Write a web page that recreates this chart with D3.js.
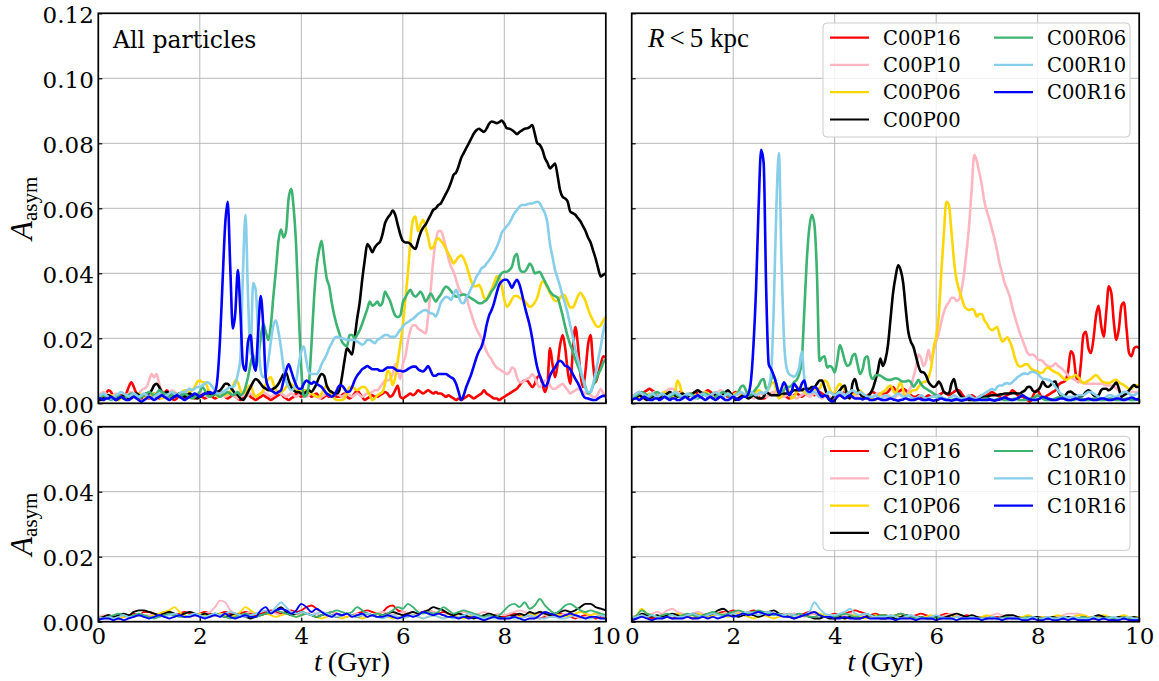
<!DOCTYPE html>
<html>
<head>
<meta charset="utf-8">
<script src="https://cdn.jsdelivr.net/npm/d3@7"></script>
<style>
  body { margin: 0; background: #fff; }
  svg { display: block; }
</style>
</head>
<body>
<svg id="fig" width="1159" height="681"></svg>
<script>
// ---------------------------------------------------------------
// Disc asymmetry A_asym versus time, in units of 1e-3.
// Top row: C00 runs (0.05 Gyr sampling); bottom row: C10 runs (0.1 Gyr).
// Left column: all particles; right column: R < 5 kpc.
// ---------------------------------------------------------------
const timeTop = d3.range(201).map(i => i * 0.05);
const timeBottom = d3.range(101).map(i => i * 0.1);

const namesC00 = ["C00P16", "C00P10", "C00P06", "C00P00", "C00R06", "C00R10", "C00R16"];
const namesC10 = ["C10P16", "C10P10", "C10P06", "C10P00", "C10R06", "C10R10", "C10R16"];
const seriesColors = ["#ff0000", "#ffb6c1", "#ffd700", "#000000", "#3cb371", "#87ceeb", "#0000ff"];

const yTicksTop = [0, 0.02, 0.04, 0.06, 0.08, 0.10, 0.12];
const yTicksBottom = [0, 0.02, 0.04, 0.06];
const xTicks = [0, 2, 4, 6, 8, 10];

// ---- All particles, C00 ----
const allC00P16 = [
  2,2,2.5,3,4,3.5,2,1.5,2,2.5,2,3,5,6.5,5,3,2,1.5,2.5,2,
  1.5,2,3,2,1.5,2,3,4,3,1.5,1,1.5,2.5,2,1.5,2,2.5,2,1.5,2,
  2.5,2,1.5,2,3,2,1.5,2,2.5,3,2,1.5,2,2.5,2,1.5,1,1.5,2,3,
  2,1.5,1,1.5,2,2.5,2,1.5,1,1.5,2,2.5,3,2,1.5,1,1.5,2,3,2.5,
  2,3,4,3,2,2.5,3,2,1.5,2,2.5,2,3,2.5,2,2,2.5,3,2,1.5,
  2,3,4,3,2,1,1.5,2,2.5,2,2,2.5,3,3.5,3,2,2.5,4,5.5,2,
  1.5,2,2.5,3,2.5,3,4,3.5,3,3.5,4,3.5,3,3.5,3,3,2.5,2,2.5,2,
  1.5,1,1.5,1,1.5,2,2.5,2,1.5,2,2.5,3,4,3,2.5,2,1.5,1.5,1,1.5,
  2,2.5,3,3.5,4,4.5,5.5,6.5,7,7,6,5,6,8,8.5,6,3.5,6,17,12,
  8,12,18,21,17,10,6,16,23.5,18,9,5,10,18,21,12,6.5,9,12,14.5,
  14];
const allC00P10 = [
  2,3,3.5,3,2.5,2,2.5,3,2.5,2,2,2.5,3,3.5,3,2.5,3,4,4.5,5,
  7,9,8,9,6,4,3,2.5,3,4,3.5,3,2.5,2,2.5,3,2.5,2,2.5,3,
  3.5,3,2.5,2,2.5,3,4,3.5,3,2.5,2,2.5,3,2.5,2,1.5,2,2.5,2,2.5,
  3,2.5,2,2.5,3,3.5,3,2.5,2,2.5,3,3.5,3,2.5,2,2.5,3,2.5,2,2.5,
  3,2.5,2,2.5,3,2.5,2,1.5,2,2.5,3,2.5,2,2.5,3,2.5,2,2.5,3,2.5,
  2,2.5,3,2.5,2,2.5,3,3,3.5,4,4,5,6,7,7,7.5,9,12,10,7.5,
  12,14.5,19,22.5,24,24,23,22.5,22,21.5,27,35,44,50,53,53,51,48,44.5,42,
  40.5,38,35.5,34,33.5,33,30,27.5,25,23,21.5,20,18,16,14.5,13.5,12,11,10.5,10,
  9.5,9,9.5,11,10.5,8,6.5,6.5,7,7.5,8,9,8,6,5,6,7,7,5.5,4.5,
  4.5,5,5.5,6,5,4,3,3.5,4,4.5,4,3.5,3,3,2.5,2,2,3,4.5,3,
  2];
const allC00P06 = [
  2,1.5,1,1.5,2,2.5,2,1.5,1,1.5,2,2.5,2,1.5,2,2.5,3,2.5,2,1.5,
  2,2.5,3,2.5,2,1.5,2,2.5,3,3.5,3,2.5,3,3.5,4,4,3.5,4,5,6.5,
  7,6.5,6.5,5,3,2.5,3,2,2.5,3,2.5,3,3.5,5,7,6.5,4,3,3.5,5,
  5.5,3.5,2,2.5,3,4,6,7.5,8,6,4,3.5,3.5,4,5,6,6,5,4,3.5,
  4,4,4,3.5,3,2.5,2,2,3,4.5,5.5,4,2.5,1.5,1,1,1,1.5,3,5,
  5,4.5,4,4.5,5,5,4,2.5,1,1.5,2.5,3,3.5,6,10,9,5.5,8,13,18,
  24,32,40,50,56.5,57.5,53,55,56.5,54,51,47.5,48,50,50.8,50,49,47.5,46,44.5,
  43,44,45,45.5,44.5,42.5,40,37.5,36,36,36.5,35,32.5,32,33.5,35,37,39,39,36,
  32,29.7,30.5,32,33,33,32.5,32,31.5,30.5,29.7,30,31,32.5,35.5,37.5,37,35.5,34,32.5,
  31.5,31.5,32.5,33.5,33,31,29.5,29.5,31,33,34,33,31.5,29,27,25.5,24,23.5,24,25.5,
  26.5];
const allC00P00 = [
  1.5,1,1.5,2,2.5,2,1.5,1,1.5,2,2.5,2,1.5,2,2.5,3,2.5,2,2.5,3,
  3,4,5.5,6,5,3.5,3,3.5,3,2.5,2,2.5,3,2.5,2,2.5,3,2.5,2,1.5,
  2,2.5,3,3.5,3,2.5,3,3.5,4,5,6,6,5,4,3,2.5,1.5,1,2,3.5,
  5,6.5,7.5,7,6,5,4.5,4,4,4.5,5,6,7.5,9,9.5,7,5,4,3.5,3.5,
  3,3,3.5,4,3.5,4.5,6,8,9,8.5,5.5,4,3.5,3,3,4,8,13,17,16,
  15,20,26,31,38,44,49,48,46.5,48,49,49.7,52,55.4,57,58,59.3,58,55,52,
  50,49.5,49.5,49,48,47.5,50,52.5,54,55,56.5,58,59.5,60,61,61.5,63,64.5,66,68,
  70.3,71,73,75.5,77,78.5,80,81.5,83,84,84.5,84,83.5,84.5,86,86.7,86.5,86.2,86.5,87,
  86,84.6,84.5,84.1,83.5,82.8,83.5,84,84.5,84.6,85,85.6,83,80,79.5,78,75.5,74,72.3,73,
  73.8,70,65.5,63.5,63,62,59,58.5,58,57,56,54.5,53,51,49.5,47,44.5,41.5,39,39.5,
  40];
const allC00R06 = [
  1.5,2,2.5,2,1.5,1,1.5,2,2.5,2,1.5,2,2.5,3,2.5,2,1.5,2,2.5,3,
  3.5,3,2.5,3,4,3.5,3,2.5,2,2.5,3,2.5,2,2.5,3,2.5,2,1.5,2,2.5,
  3.5,5,4,2.5,2,2.5,3,2.5,2,2.5,3,3.5,3,2.5,3,3.5,2.5,3,5,8,
  12,15,11,14,20,24.5,22,19.5,24,33,41,50,53.5,51,53,63,66,60,48,28,
  11,2,2.5,6,18,32,42,47,50,44,38.5,36,31,27,24,21.5,19,18,17.5,21,
  21,20,21,22.5,24.5,26.7,29,31.3,30,30.5,31.3,30,31,34.4,33,31.5,29,27,26.5,27,
  31,32.5,34,34.9,33.5,32.8,33.5,34.4,33,31.3,32.5,33.8,32.5,31.3,32.5,33.5,35,35.9,35.5,34.5,
  33.5,32.8,33,33.3,33.5,33.3,32.8,32.3,31.8,31.3,30.8,30.8,31.3,31.8,33,34.5,35.5,37,39,40,
  40.5,40.5,41,42,45,46,41.5,40.5,40.5,41.5,43,42,40,40.2,40.5,39,37.5,36,34.4,33.5,
  33,32.5,30,27,23.5,20.5,18,16,13.5,11.5,9.5,7.5,5,3,3.5,5.5,7,9,10.5,12.5,
  13.5];
const allC00R10 = [
  2,2.5,3,2.5,2,1.5,2,2.5,3,3.5,3,2.5,2,2.5,3,2.5,2,2.5,3,2.5,
  2,1.5,2,2.5,3,2.5,2,2.5,3,3.5,3,2.5,3,3.5,3.5,4,4.5,4,4.5,5,
  5,5.5,6,6.5,6,5,4,3,3,3.5,4,4.5,5,5,6,9,14,40,58,33,
  15,37,35,21.5,10,8,9,13,19,24,25.5,22,17,11,7,5,4,4.5,7,12,
  16,17.5,13,9.5,9,9,9,10,12,13.5,15,17,18.5,20,20.5,20.2,20,19.8,19.5,19.5,
  19.5,19.5,19,18.5,18,18.5,19.5,19.5,19,18.5,19.5,20,20.5,21,21,20.5,20.5,20.5,21.5,22.6,
  23.5,24.5,25,25.5,26,26.7,27.5,28,28.5,28.7,28.2,27.7,27.5,26.7,28.5,31,32,32.8,32.5,31.8,
  33.5,34.9,33,31,30.8,32.5,33.8,35.5,37,39,40,41.5,42,43,44,45.1,46.5,48,50,52.5,
  53.5,54.5,55.5,57,58.5,59.5,60.5,61,61,61.2,61.5,61.5,61.8,62,61.5,60,58.5,55.5,49,45,
  41,38.5,35.9,33,30.5,27.5,24,20.5,16.5,13.5,10.5,7.5,4.5,3.5,3.5,6,9.5,13.5,17.5,22,
  25.5];
const allC00R16 = [
  1.5,1.5,1,1.5,1.5,2,1.5,1,1.5,2,1.5,1,1,1.5,2,1.5,1,0.5,1,1.5,
  2,1.5,1,1.5,2,2.5,2,1.5,1,1.5,2,2.5,2,1.5,1,1.5,2,2.5,3,2.5,
  2,2.5,3,3,3.5,3,3.5,8,20,38,55,62,42,23,28,41,28,12,10,19,
  21,13,10,22,33,24,8,5,4,3.5,3,3.5,4,7,10,12,10,7.5,5.5,4.5,
  4.5,6,7,6.5,6,6.6,6,5.5,5,4,3,2.5,2,2.5,4,5.5,5.5,4.5,3.5,3.6,
  5,7,8.5,9.5,10.5,11,11.5,11,10.5,10.5,10.5,10,10,10.5,11,11,11,10.5,10,10,
  9.8,10,10.5,11,11.3,11.3,10.5,10,9.8,10.5,11.5,10,8.5,8.5,9,9,9,9,8.5,8,
  7.5,6,3.5,1,2.5,5,7,9,11.5,14,16,17.4,20,24,27,28.7,31,34,36.5,37.5,
  38,38,37,35.5,37,38,36.5,33.5,30,27,24,20,15,11,8.5,6.5,5.2,6,8.5,10,
  11,12.5,13.1,12.5,11.5,11.3,10.5,9,7.5,6.2,4.5,2.5,1.6,1.5,1.2,1,1,1.5,2,2.3,
  2.3];

// ---- R < 5 kpc, C00 ----
const innerC00P16 = [
  2,2.5,3,3.5,3,3.5,4,4.5,4,3.5,3,2.5,2,2.5,3,2.5,2,2.5,3,3.5,
  3,2.5,2,2.5,3,3.5,3,2.5,3,3.5,4,3.5,3,2.5,2,2.5,3,2.5,2,2.5,
  3,3.5,3,2.5,2,2.5,3,3.5,3,2.5,2,1.5,1.5,2,2.5,3,3.5,3,2.5,2,
  2.5,2,1.5,2,2.5,3,2.5,2,2.5,3,3.5,3,2.5,3,3.5,3,2.5,2,1.5,1,
  1.5,2,2.5,3,3.5,3,2.5,3,3.5,3,3,2.5,2,2.5,3,3.5,3,2.5,3,3,
  3,3.5,4.5,5,4,3.5,4,4.5,4,3,2.5,2,2,2.5,2,1.5,2,2.5,2,2,
  2,2.5,3,3.5,3,2.5,3,3.5,4,4,3,2,1.5,2,2.5,2,1.5,2,2.5,2,
  2.5,3,3.5,3,2.5,2,1.5,2,2.5,3,4,3.5,2.5,2,2,1.5,1,0.5,2,3.5,
  4,2.5,1.5,2,2.5,3,3.5,4,5.5,6.2,6.5,7,10,16,15,9,6.5,12,21,22,
  17,15.5,20,27,30,24,20.5,28,36,34,25,19.5,23,30,31,23,15.5,14.5,17,17.4,
  16.9];
const innerC00P10 = [
  2,2.5,3,3.5,3,2.5,2,2.5,3,3.5,3,2.5,3,3.5,4,4.5,4.5,4,3.5,3,
  2.5,2,2.5,3,2.5,2,2.5,3,3.5,3,2.5,2,2.5,3,3.5,4,3.5,3,2.5,2,
  2.5,3,2.5,2,2.5,3,2.5,2,1.5,2,2.5,3,2.5,2,2.5,3,3.5,3,2.5,2,
  2,2.5,3,2.5,2,1.5,2,2.5,3,2.5,2,2.5,3,2.5,2,1.5,2,2.5,2,1.5,
  1.5,2,2.5,3,2.5,2,1.5,2,2.5,2,1.5,2,2.5,2,1.5,2,2.5,3,2.5,2,
  2,2.5,2,1.5,2,2.5,3,2.5,2.5,3.5,5,8,11,15,14,11.5,13,16.5,13,16,
  19,21.5,25,28,30,31,32.5,32.5,31.5,32,35,40,47,55,66,76.5,74.5,71,67,62,
  59,56.5,53.5,50.5,47,43,40,37,35,32.8,29.5,26.7,24,21.5,19.5,17.4,15.5,14.9,15,14.5,
  13.5,13.3,13,12,11.5,11.3,11.5,12.3,11.5,11,10.3,9.5,8.5,8,7.5,7,6.7,6.5,6.3,6,
  6,6,6,6,6,6,5.8,5.5,5.5,5.5,5.2,4.5,4,3.5,3.5,3.5,3.5,3.5,3.5,3.5,
  3.5];
const innerC00P06 = [
  1.5,2,2.5,2,1.5,2,2.5,3,2.5,2,2,2.5,3,3.5,3,2.5,2,3,7,5.5,
  3,2.5,2,2.5,3,2.5,2,2.5,3,3.5,3,2.5,3,3.5,3,2.5,2,2.5,3,2.5,
  2.5,3,3.5,3,2.5,2,2.5,3,3,3.5,4,3.5,3,3.5,4.5,6,6.5,4,1.5,2,
  4,5.5,3.5,1.5,2,3.5,5,4.5,3.5,3,3.5,4.5,4.5,4,4.5,6,7,6.5,4.5,3,
  3.5,5,6,5,4,3,2.5,2.5,3,3.5,4,3,2,1.5,1.5,1.5,1,2,3,3.5,
  4,5,5.5,4,3,5,6.5,4,2,2.5,3.5,4,4,5,6,6.5,6.7,8,11,17,
  20.5,27,40,52,62,61,53,44,38,35,32.5,30,29,28.7,29,28.5,26.7,27.5,27.5,25.5,
  24.5,23,22.5,23,23.5,21,19,19.5,20.3,19,17,14,12,11.3,11.5,12,12,11,10.3,10,
  9.8,9.3,9.5,10.5,11,10.5,10,9.5,9.2,8.5,7.8,7.2,7.5,8,8.2,8.7,8,7,6.2,6.5,
  7,7.5,8.2,8.7,8,7,6.5,6.3,6.2,6.5,7,7.2,6.5,6,5.6,5,4.5,4.5,5.5,5.6,
  5];
const innerC00P00 = [
  1,1.5,2,2.5,2,1.5,1,1.5,2,2.5,2,1.5,2,2.5,3,3.5,3,2.5,2,2.5,
  3,2.5,2,2.5,3,3.5,4,3.5,3,2.5,2,2.5,3,2.5,2,2.5,3,3.5,4,3,
  2,1,1.5,2,2.5,2,1.5,2,2.5,2,1.5,1.5,2,3.5,3,2.5,2.5,2.5,2.5,3,
  3,3,3,3.5,4,4,4,4,4.5,4.5,4.5,5,5,6,7,7,5,2.5,1,1.5,
  2.5,3,4,5,5.5,2,1.5,6,7.5,4.5,3,2,2,2,3,4.5,7,10,13.8,11.5,
  13.5,18,26,34,39,42.5,41,37,29,22,19,17.4,14.5,11.5,9.7,9.5,8.5,6.5,5.5,5,
  5.5,6.7,5.5,3.5,3,3,6,7.5,4.5,3,2,1.5,1.5,1,1,1,1.2,1.5,1.8,2,
  2,2.3,2.5,2.5,2.5,2.7,2.8,3,3,3,3.1,3.1,3,3,3.5,4,5,5.1,4,3.5,
  4,5,6.7,5.5,5,5.5,6.5,6.7,4,2.5,2,2.5,3.5,3.6,3,2.5,2,2,2.5,3.5,
  4,3.5,2.5,2,2.5,4,4.5,4.5,4,4.5,5.5,6.4,4.5,2,2.5,3,4,5,5.6,5,
  5];
const innerC00R06 = [
  1.5,2,2.5,3,3.5,3,2.5,2,2.5,3,3.5,3,2.5,2,1.5,2,2.5,3,2.5,2,
  1.5,2,2.5,3,2.5,2,1.5,2,2.5,3,2.5,2,1.5,2,2.5,3,3.5,3,2.5,2,
  2,2.5,3.5,5,5.5,4,2.5,2.5,3.5,4.5,5.5,7,7.5,4.5,5,7.5,8.5,6,3.5,3.5,
  4,5,5,5.5,6.5,7.2,9,13,28,44,54,58,55,40,13,14,14.5,11,11.5,11,
  9.5,13,17.9,16,13,11.5,12,14.5,15.2,12,9,10.5,14,14.5,9,7.5,8.5,8.7,8.5,8,
  7.5,7.2,7.2,7.5,7.7,7.5,7,6.7,6.7,7,6.5,5.1,6,7.2,6,5,4.5,4,3.5,3,
  2.5,2,1.8,1.5,1.2,1,1,1.2,1.5,1.2,1,1,1.2,1.5,1.2,1,1,1,1.2,1.5,
  1.5,1.2,1,1,1.2,1.5,1.2,1,1,1,1.2,1.5,1.2,1,1,1,1.2,1.5,1.5,2,
  2.5,2,1.5,1,1,1,1.2,1.5,1.8,2,1.5,1.2,1,1,1,1.2,1.5,1.5,1.2,1,
  1,1.2,1.5,1.5,1.2,1,1,1.2,1.5,1.5,1.2,1,1,1,1.2,1.5,1.2,1,1,1.2,
  1.5];
const innerC00R10 = [
  1.5,2.5,3,3.5,3,2.5,2,2.5,3,2.5,2,2.5,3,2.5,2,2.5,3,3.5,3,2.5,
  2,2.5,3,2.5,2,1.5,2,2.5,3,2.5,2,2.5,3,3.5,3,2.5,2,2.5,3,2.5,
  2,2.5,3,3.5,3,2.5,3,3.5,3,2.5,3,3.5,3,3.5,5,10,30,60,77,45,
  20,11,9,8.5,8.2,9,11,15.9,8,3.5,3,3.5,3.5,3,2,2,2.5,3,3.5,3,
  2.5,3,3.5,3,2.5,3,3.5,4,3.5,3,3.5,3,2.5,2,2,2,2.5,2,1.5,2,
  2.5,2,1.5,2,2.5,3,2.5,2,2,2.5,2,1.5,1.5,2,2.5,2,1.5,1.5,2,2,
  2,2.5,2,1.5,1,1.5,2,2.5,2,1.5,1.5,1.5,2,2.5,2,1.5,1.5,2,2.5,3,
  3.5,4,4.5,4,5,5.5,5.5,6,6.2,6,6.5,7.2,8,8.5,9,9.2,9,9.5,9.7,9.5,
  9,8.2,7.5,7.5,7.2,7,6,5,4,3,2.5,2,2,2,2,2,2.5,2.5,2.5,3,
  3.5,3.5,3,2.5,2,1.5,1.5,2,2.5,2.5,2,2,2.5,3,3.5,3.5,3,2.5,2.5,3,
  3];
const innerC00R16 = [
  1,1.5,1.5,1,1.5,2,1.5,1,1,1.5,1.5,1,1.5,2,1.5,1,1.5,1.5,1,1,
  1.5,2,1.5,1,1.5,2,2.5,2,1.5,1,1.5,2,1.5,1,1.5,2,1.5,1,1,1.5,
  2,1.5,1,1.5,2,2,3,7,18,35,60,78,74,35,12,10.5,8.5,6,3,4.5,
  6.5,5,2.5,3.5,6,5,4,6,7,4,3.5,4,5,4.5,3,2,2.5,2,1,0.5,
  1,2,2.5,2,1.5,2,2.5,2,1.5,1.5,1.5,1.2,1.5,1.5,1,1,1.2,1.5,1.2,1,
  1,1.2,1.5,1.2,1,0.8,1,1.2,1.5,1.2,1,1,1.2,1.5,1.2,1,1,1.2,1,0.8,
  1,1.2,1.5,1.2,1,1,0.8,1,1.2,1,0.8,1,1.2,1.5,1.2,1,1,1.2,1,1,
  1,1.2,1,0.8,1,1.2,1.5,1.8,1.5,1.2,1,1.2,1.5,2,2.5,2,1.5,1.2,1,1,
  1.2,1.5,2,1.8,1.5,1.2,1,1,1.2,1.5,1.5,1.2,1,1,1.2,1.5,1.2,1,1,1.2,
  1.5,1.2,1,1,1.2,1.5,1.5,1.2,1,1,1.2,1.5,1.5,1.2,1,1.2,1.5,1.8,1.5,1.2,
  1.2];

// ---- All particles, C10 ----
const allC10P16 = [1,1.5,2,1.5,1,1.5,2,2.5,2,3, 3,2.5,2,3,2.5,2,2.5,3,2.5,2, 2.5,3,2.5,2,2.5,3,2.5,2,2.5,3, 2.5,2,2.5,3,3.5,3,2.5,3,3.5,3, 3.5,4.5,5,4,3,2.5,3,2.5,2,2.5, 2,2.5,3,3.5,3,2.5,3,4.5,5,3.5, 3,2.5,2,2.5,3,3.5,3,2.5,3,2.5, 2,2.5,2,1.5,2,1.5,1,1.5,2,1.5, 1.5,2,2.5,2,1.5,2,1.5,1,1.5,2, 2,2.5,2,1.5,1,1.5,2,1.5,1,1.5, 1.5];
const allC10P10 = [1.5,2,1.5,1,1.5,2,1.5,2,2.5,2, 2,2.5,2,2.5,3,2.5,2,2.5,3,2.5, 2,2.5,3,4.5,6.5,6,3.5,2.5,2,2.5, 3,2.5,2,2.5,3,2.5,2,2.5,3,2.5, 2,2.5,3,2.5,2,2.5,3,2.5,2,1.5, 2,2.5,2,1.5,2,2.5,3,2.5,2,2.5, 3,2.5,2,2.5,3,3.5,3,2.5,2,2.5, 2,2.5,3,2.5,2,2.5,3,2.5,2,2.5, 2,2.5,3,3.5,3,2.5,2,2.5,2,1.5, 1.5,2,2.5,2,1.5,1,1.5,2,2.5,2, 1.5];
const allC10P06 = [1,1.5,1,1.5,1,1.5,2,1.5,2,1.5, 1.5,2,2.5,3,3.5,4.5,3,2,1.5,2, 2.5,2,1.5,2,2.5,2,1.5,2,3,4.5, 3.5,2.5,2,2.5,2,1.5,2,2.5,2,1.5, 2,2.5,2,1.5,1,1.5,2,1.5,1,1.5, 2,1.5,1,1.5,2,2.5,2,1.5,1,1.5, 1,1.5,2,1.5,1,1.5,2,1.5,1,1.5, 2,1.5,1,1.5,2,1.5,1,1,1.5,1, 1,1.5,1,1.5,2,2.5,2,3,2.5,2, 2.5,2,1.5,2,2.5,3,2.5,2,2.5,2, 1.5];
const allC10P00 = [1,1.5,2,1.5,2,2.5,2,3,3.5,3.5, 3,2.5,2,2.5,3,2.5,2,2.5,3,2.5, 2,2.5,2,2.5,2,1.5,2,2.5,2,1.5, 1,1.5,2,2.5,3,3.5,4.5,3,2,2.5, 3,2.5,2,1.5,2,2.5,2,1.5,2,2.5, 2,1.5,2,2.5,2,1.5,2,2.5,3,2.5, 2,2.5,3,2.5,3,3.5,4.5,4,3.5,2.5, 2,2.5,2,1.5,1,1.5,2,2.5,2,1.5, 1,1.5,2,2.5,2,3,2.5,3,2.5,2, 2.5,3,3.5,3,3.5,4.5,5.5,5.5,4.5,4, 3.5];
const allC10R06 = [1.5,1,1.5,2,2.5,2,1.5,2,2.5,2, 1.5,1,1.5,2,2.5,2,1.5,1.5,2,2.5, 2,1.5,2,2.5,2,1.5,1,1.5,2,2.5, 2,1.5,2,2.5,3,3.5,3,2.5,2,1.5, 2,2.5,2,1.5,2,2.5,3,3.5,3,2.5, 3,4.5,3.5,2.5,2,2.5,2,2.5,3.5,4.5, 4,5.5,4.5,3,2.5,3,2.5,3,4.5,3.5, 2.5,3,3.5,3,2.5,2,1.5,2,1.5,2, 3.5,5,5.5,4.5,6,4,5,7,5,3.5, 2.5,3.5,5,5.5,4.5,3.5,3,3.5,3,2.5, 2];
const allC10R10 = [1.5,1,1.5,1,1.5,2,1.5,1.5,2,1.5, 1,1.5,2,1.5,2,2.5,2,1.5,2,2.5, 2,1.5,2,2.5,2,2.5,3,2.5,2,1.5, 2,2.5,3,3.5,3,4.5,6,4.5,3,2.5, 3,2.5,2,2.5,3,2.5,2,1.5,2,2.5, 2,1.5,2,2.5,2,1.5,1,1.5,2,1.5, 1,1.5,2,1.5,1,1.5,2,1.5,1,1.5, 1,1.5,2,2.5,2,1.5,1,1.5,1,1, 1,1.5,1,1,1.5,2,1.5,1,1,1.5, 1.5,1,1,1.5,2,1.5,1,1,1.5,2, 1.5];
const allC10R16 = [0.5,1,1,0.5,1,0.5,1,1.5,2,1.5, 1,1.5,2,1.5,1,1.5,2,1.5,1.5,2, 1.5,1,1.5,2,1.5,2.5,1.5,1,1.5,2, 1.5,1.5,3.5,4.5,2.5,3.5,4,3.5,2.5,3.5, 5.5,4.5,3,4,3,2,1.5,2.5,2,2.5, 1.5,2,2.5,1.5,2,1.5,1.5,2,1.5,1, 1.5,2,1.5,2,3,2.5,2,2.5,2,1.5, 1.5,1,1.5,1,1.5,1,0.5,1,1.5,1, 1,1,1.5,1,0.5,1,1,2,3,2.5, 2,1.5,2,2.5,2,1.5,1,1.5,1.5,1, 1];

// ---- R < 5 kpc, C10 ----
const innerC10P16 = [1,1.5,2,1.5,1,1.5,2,1.5,1,1.5, 2,1.5,1,1.5,2,2.5,2,2.5,3,3, 3.5,3,2.5,3,3.5,3,2.5,3,2.5,2, 2.5,2,2.5,2,2.5,3,2.5,2,1.5,2, 2.5,2,2.5,3,3.5,3,2.5,2,2.5,2, 2,1.5,2,2.5,2,1.5,2,2.5,2,1.5, 1.5,2,2.5,2,1.5,1.5,2,1.5,1,1.5, 1.5,1,1.5,1,1,1.5,1,1,1.5,1, 1,1.5,1,1,1.5,1,1,1.5,1,1, 1.5,1,1,1.5,1,1,1.5,1.5,1,1, 1];
const innerC10P10 = [1.5,2,2.5,2,2.5,3,2.5,3.5,4,3, 2.5,2,2.5,3,2.5,2,2.5,2,2.5,3, 2.5,3,2.5,2,2.5,3,2.5,2,2.5,2, 2.5,2,2.5,2,1.5,2,2.5,2,1.5,2, 2,1.5,2,2.5,2,1.5,2,1.5,1,1.5, 1.5,2,1.5,1,1.5,2,1.5,1.5,1,1.5, 1,1.5,2,2.5,2,1.5,1,1.5,1.5,1, 1.5,2,2.5,2,1.5,1,1.5,1,1.5,1, 1,1.5,1,1.5,1.5,2,2.5,2.5,2.5,2, 1.5,1.5,1,1.5,1,1.5,1.5,1,1.5,1, 1];
const innerC10P06 = [1,2,4,2.5,2,1.5,2,1.5,2,2.5, 2,1.5,2,2.5,2,1.5,2,2.5,2,1.5, 2,2.5,2,1.5,1,1.5,2,1.5,1,1.5, 2,2.5,2,1.5,2,2.5,3,2.5,2,1.5, 2,1.5,1,1.5,2,1.5,1,1.5,2,1.5, 1,1.5,2,1.5,1,1.5,1.5,1,1.5,2, 1.5,1,1.5,2,1.5,1,1,1.5,1,1.5, 2,1.5,1,1,1.5,1,1.5,1.5,2,1.5, 1,1.5,1,1.5,2,1.5,1,1.5,2,2, 1.5,1,1.5,2,1.5,1,1.5,2,1.5,1.5, 1.5];
const innerC10P00 = [0.5,1,2.5,2,1.5,2,1.5,2,2.5,2, 1.5,2,2.5,2,1.5,2,2.5,3.5,4,3, 2,1.5,2,2.5,2,1.5,2,3,3.5,2.5, 2,1.5,1,1.5,2,1.5,1,1,1.5,1, 1,1.5,1,1.5,1,1,1.5,2,1.5,1, 1,1.5,1,1.5,2,1.5,1,1.5,1,1, 1.5,1,1.5,2,2.5,2,1.5,2,1.5,1, 1,1.5,1,1.5,2,2,1.5,1,1,1.5, 1.5,1,1,1.5,1,1,1.5,1,1,1.5, 1,1.5,2,1.5,1,1,1.5,1,1,1.5, 1];
const innerC10R06 = [1,2,3.5,2.5,2,1.5,2,2.5,2,1.5, 2,2.5,2,1.5,2,2.5,3,2.5,2,2.5, 3,3.5,3,2.5,3,3.5,3,2.5,2,2.5, 2,1.5,2,2.5,2,1.5,1.5,2,1.5,1.5, 1.5,2,2.5,2,1.5,2,2.5,2,1.5,2, 2,1.5,2,2.5,2,1.5,1,1.5,1,1.5, 1,1.5,1,1,1.5,1,1,1.5,1,1, 1,1.5,1,1,1.5,1,1,1,1.5,1, 1,1,1.5,1,1,1.5,1,1,1,1.5, 1,1.5,1,1,1.5,1,1,1.5,1,1, 1];
const innerC10R10 = [1,1.5,2,1.5,2,1.5,1,1.5,2,1.5, 1.5,2,2.5,2,1.5,2,2.5,2,1.5,2, 2.5,2,2.5,3,2.5,2,2.5,3,2.5,2, 2,2.5,2,1.5,2,3,6,4,2.5,2, 2,2.5,3,4,2.5,2,2.5,2,1.5,1.5, 1.5,2,1.5,1,1.5,2,1.5,1,1,1.5, 2,1.5,1,1,1.5,1,1,1.5,1,1, 1,1.5,1,1,1,1.5,1,1,1,1.5, 1,1,1.5,1,1,1.5,1,1.5,1,1, 1,1.5,1,1,1,1.5,1,1,1.5,1, 1];
const innerC10R16 = [0.5,1,1.5,1,0.5,1,1,1.5,1,1, 1,1.5,1,1,1.5,1,1.5,1,1.5,2, 1.5,2,2.5,2,2.5,3,2.5,2,2.5,2, 1.5,1.5,1,1.5,2,2.5,3,2,1.5,1.5, 1,1,1.5,1,1,1,1.5,1,1,1, 1,1,0.5,1,1,1,0.5,1,1,1, 0.5,1,1,1,0.5,1,1,1,1,0.5, 1,1,1,0.5,1,1,1,0.5,0.5,1, 0.5,0.5,1,0.5,0.5,1,0.5,1,0.5,0.5, 0.5,1,0.5,1,0.5,0.5,0.5,1,0.5,0.5, 0.5];

// ---------------------------------------------------------------
const svg = d3.select("#fig");
const PANEL_W = 507.5;
const tickFont = "DejaVu Serif";
const mathFont = "Liberation Serif";

const panels = [
  { id: "tl", x0: 98.3,  y0: 13.3,  h: 390, ymax: 0.12, yTicks: yTicksTop,    time: timeTop,
    series: [allC00P16, allC00P10, allC00P06, allC00P00, allC00R06, allC00R10, allC00R16],
    yLab: true, xLab: false, lw: 2.6 },
  { id: "tr", x0: 631.7, y0: 13.3,  h: 390, ymax: 0.12, yTicks: yTicksTop,    time: timeTop,
    series: [innerC00P16, innerC00P10, innerC00P06, innerC00P00, innerC00R06, innerC00R10, innerC00R16],
    yLab: false, xLab: false, lw: 2.6, legend: namesC00 },
  { id: "bl", x0: 98.3,  y0: 426.7, h: 195, ymax: 0.06, yTicks: yTicksBottom, time: timeBottom,
    series: [allC10P16, allC10P10, allC10P06, allC10P00, allC10R06, allC10R10, allC10R16],
    yLab: true, xLab: true, lw: 1.9 },
  { id: "br", x0: 631.7, y0: 426.7, h: 195, ymax: 0.06, yTicks: yTicksBottom, time: timeBottom,
    series: [innerC10P16, innerC10P10, innerC10P06, innerC10P00, innerC10R06, innerC10R10, innerC10R16],
    yLab: false, xLab: true, lw: 1.9, legend: namesC10 }
];

const defs = svg.append("defs");

panels.forEach(p => {
  const x = d3.scaleLinear().domain([0, 10]).range([p.x0, p.x0 + PANEL_W]);
  const y = d3.scaleLinear().domain([0, p.ymax]).range([p.y0 + p.h, p.y0]);
  const g = svg.append("g").attr("class", "panel-" + p.id);

  defs.append("clipPath").attr("id", "clip-" + p.id)
    .append("rect").attr("x", p.x0).attr("y", p.y0).attr("width", PANEL_W).attr("height", p.h);

  // grid
  const grid = g.append("g").attr("stroke", "#b0b0b0").attr("stroke-width", 0.9);
  grid.selectAll("line.gx").data(xTicks).join("line")
    .attr("x1", d => x(d)).attr("x2", d => x(d)).attr("y1", p.y0).attr("y2", p.y0 + p.h);
  grid.selectAll("line.gy").data(p.yTicks).join("line")
    .attr("x1", p.x0).attr("x2", p.x0 + PANEL_W).attr("y1", d => y(d)).attr("y2", d => y(d));

  // series
  const line = d3.line()
    .x((d, i) => x(p.time[i]))
    .y(d => y(d * 1e-3))
    .curve(d3.curveMonotoneX);
  const lines = g.append("g").attr("clip-path", `url(#clip-${p.id})`);
  p.series.forEach((vals, k) => {
    lines.append("path").datum(vals)
      .attr("d", line)
      .attr("fill", "none")
      .attr("stroke", seriesColors[k])
      .attr("stroke-width", p.lw)
      .attr("stroke-linejoin", "round")
      .attr("stroke-linecap", "butt");
  });

  // axes (inward ticks)
  const yAxis = d3.axisLeft(y).tickValues(p.yTicks)
    .tickSizeInner(-4).tickSizeOuter(0).tickPadding(4.5)
    .tickFormat(p.yLab ? d3.format(".2f") : () => "");
  const gy = g.append("g").attr("transform", `translate(${p.x0},0)`).call(yAxis);
  const xAxis = d3.axisBottom(x).tickValues(xTicks)
    .tickSizeInner(-4).tickSizeOuter(0).tickPadding(5.5)
    .tickFormat(p.xLab ? d3.format("d") : () => "");
  const gx = g.append("g").attr("transform", `translate(0,${p.y0 + p.h})`).call(xAxis);
  [gy, gx].forEach(ax => {
    ax.select(".domain").remove();
    ax.selectAll(".tick line").attr("stroke", "#000").attr("stroke-width", 1.2);
    ax.selectAll("text").attr("font-family", tickFont).attr("font-size", 23).attr("fill", "#000");
  });
  gy.selectAll("text").attr("dy", "0.4em");

  // frame
  g.append("rect")
    .attr("x", p.x0).attr("y", p.y0).attr("width", PANEL_W).attr("height", p.h)
    .attr("fill", "none").attr("stroke", "#000").attr("stroke-width", 1.7);

  // legend
  if (p.legend) {
    const lx = 823, ly = p.y0 + 9.7;
    const lg = g.append("g").attr("transform", `translate(${lx},${ly})`);
    lg.append("rect").attr("width", 307).attr("height", 114).attr("rx", 4)
      .attr("fill", "#fff").attr("fill-opacity", 0.8)
      .attr("stroke", "#cccccc").attr("stroke-width", 1);
    p.legend.forEach((name, k) => {
      const col = k < 4 ? 0 : 1;
      const row = k < 4 ? k : k - 4;
      const cx = col === 0 ? 7 : 171;
      const cy = 14.6 + row * 27.3;
      lg.append("line").attr("x1", cx).attr("x2", cx + 39).attr("y1", cy).attr("y2", cy)
        .attr("stroke", seriesColors[k]).attr("stroke-width", 2.2);
      lg.append("text").attr("x", cx + 53).attr("y", cy + 7)
        .attr("font-family", tickFont).attr("font-size", 19.5).attr("fill", "#000")
        .text(name);
    });
  }

  // x label
  if (p.xLab) {
    const t = g.append("text")
      .attr("x", p.x0 + PANEL_W / 2).attr("y", 671)
      .attr("text-anchor", "middle")
      .attr("font-family", mathFont).attr("font-size", 28).attr("fill", "#000");
    t.append("tspan").attr("font-style", "italic").text("t");
    t.append("tspan").attr("dx", 6).text("(Gyr)");
  }

  // y label
  if (p.yLab) {
    const cy = p.y0 + p.h / 2;
    const t = g.append("text")
      .attr("transform", `translate(32,${cy}) rotate(-90)`)
      .attr("text-anchor", "middle")
      .attr("font-family", mathFont).attr("font-size", 31).attr("fill", "#000");
    t.append("tspan").attr("font-style", "italic").text("A");
    t.append("tspan").attr("font-size", 21).attr("dy", 5).text("asym");
  }
});

// panel annotations
svg.append("text").attr("x", 113).attr("y", 48)
  .attr("font-family", tickFont).attr("font-size", 23.5).attr("fill", "#000")
  .text("All particles");

const rt = svg.append("text").attr("x", 648).attr("y", 47)
  .attr("font-family", mathFont).attr("font-size", 27).attr("fill", "#000");
rt.append("tspan").attr("font-style", "italic").text("R");
rt.append("tspan").attr("dx", 5).text("<");
rt.append("tspan").attr("dx", 5).text("5 kpc");
</script>
</body>
</html>
